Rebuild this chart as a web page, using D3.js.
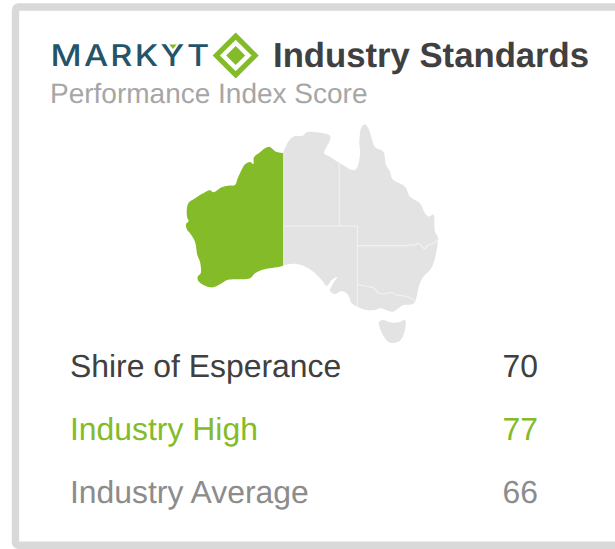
<!DOCTYPE html>
<html><head><meta charset="utf-8">
<script src="https://cdnjs.cloudflare.com/ajax/libs/d3/7.8.5/d3.min.js"></script>
<style>html,body{margin:0;padding:0;background:#fff;overflow:hidden}svg{display:block}text{font-family:"Liberation Sans",Arial,sans-serif;text-rendering:geometricPrecision}</style>
</head><body><div id="c"></div>
<script>
const titleText = "Industry Standards";
const subtitleText = "Performance Index Score";
const brandText = "MARKYT";
const rowLabels = ["Shire of Esperance", "Industry High", "Industry Average"];
const rowValues = [70, 77, 66];
const rowColors = ["#404040", "#84bb29", "#8c8c8c"];

const highlightedOutline = [[129,-15.57],[127.87,-15.39],[127.18,-14.9],[126.79,-14.67],[126.1,-14.9],[125.29,-15.47],[124.32,-16.19],[124.21,-17.14],[123.68,-16.86],[122.87,-17.19],[122.18,-18.24],[121.69,-19.19],[121.26,-20.14],[120.18,-20.24],[119.11,-20.47],[117.76,-21.19],[117.23,-20.9],[116.15,-21.33],[114.81,-22.04],[113.73,-22.76],[113.47,-23.96],[113.56,-24.81],[113.79,-25.29],[113.35,-25.76],[113.56,-26.57],[114,-27.04],[114.81,-28.24],[115.18,-30.14],[115.61,-31.1],[115.73,-32.76],[115.24,-33.24],[115.34,-33.86],[116.42,-34.53],[117.76,-34.76],[118.84,-34.33],[120.02,-33.71],[121.26,-33.61],[123.68,-33.47],[124.48,-32.76],[125.56,-32.29],[126.9,-32.04],[127.98,-31.9],[129,-31.67]];
const easternOutline = [[129,-15.57],[129.32,-14.9],[129.85,-13.96],[130.66,-13.24],[132.18,-13.1],[132.82,-12.61],[134.44,-12.61],[136.58,-13.1],[136.58,-13.71],[135.66,-15.61],[136.58,-16.1],[138.08,-16.96],[140.61,-18],[141.42,-15.86],[141.31,-13.96],[141.69,-11.81],[142.23,-11.47],[142.76,-12.04],[143.31,-13.47],[143.84,-14.76],[145.18,-15.39],[145.61,-17.29],[146.26,-18.24],[146.63,-19.29],[148.68,-20.39],[149.48,-21.81],[151.1,-22.76],[151.9,-24.19],[152.55,-24.67],[153.24,-24.33],[153.52,-26.81],[153.95,-27.53],[153.95,-28.24],[153.79,-29.43],[153.35,-31.1],[152.71,-32.29],[151.63,-33.24],[150.98,-34.43],[150.29,-36.81],[149.76,-37.19],[148.4,-37.29],[147.6,-37.76],[146.79,-38.24],[145.98,-38.14],[144.65,-37.76],[143.84,-38],[142.5,-38],[140.98,-37.53],[140.08,-37.04],[139.53,-35.86],[138.47,-35.29],[137.39,-35.71],[136.58,-35.29],[137.11,-34.19],[137.76,-33.24],[136.85,-33.71],[136.05,-34.57],[135.24,-33.71],[133.89,-32.53],[132.27,-31.67],[130.94,-31.39],[129.85,-31.47],[129,-31.67]];
const tasmaniaOutline = [[144.48,-39.67],[145.18,-39.43],[146.26,-39.76],[147.6,-39.76],[148.68,-39.43],[148.79,-40.14],[148.31,-41.81],[147.6,-42.53],[146.26,-42.67],[145.45,-42.04],[144.65,-40.61]];
const stateBorders = [
  [[138.08,-16.96],[138.08,-26]],
  [[129,-26],[141,-26]],
  [[141,-26],[141,-37.53]],
  [[141,-28.81],[149.21,-28.81],[149.76,-28.61],[150.18,-28.81],[150.66,-28.47],[151.1,-28.61],[151.79,-29.29],[152.44,-28.71],[153.35,-28.47],[153.89,-28]],
  [[141,-34.33],[142.23,-34.57],[143.56,-34.81],[144.37,-35.61],[145.18,-35.71],[146.53,-35.47],[147.34,-35.86],[148.4,-35.96],[149.48,-36.24],[150.4,-36.71]]
];

const W = 615, H = 549;
const svg = d3.select("#c").append("svg").attr("width", W).attr("height", H);

// frame
svg.append("rect").attr("x",15.5).attr("y",7).attr("width",W+20).attr("height",538.2)
  .attr("rx",3).attr("fill","#fff").attr("stroke","#d9d9d9").attr("stroke-width",7.4);

// map
const lon = d3.scaleLinear().domain([129,141]).range([283,357.4]);
const lat = d3.scaleLinear().domain([-26,-34]).range([226,282]);
const closed = d3.line().x(d=>lon(d[0])).y(d=>lat(d[1])).curve(d3.curveCatmullRomClosed.alpha(0.5));
const open = d3.line().x(d=>lon(d[0])).y(d=>lat(d[1]));
const g = svg.append("g");
const straightRight = pts => d3.line().x(d=>lon(d[0])).y(d=>lat(d[1])).curve(d3.curveCatmullRom.alpha(0.5))(pts) + "Z";
g.append("path").attr("d", straightRight(easternOutline)).attr("fill","#e3e3e3");
g.append("path").attr("d", closed(tasmaniaOutline)).attr("fill","#e3e3e3");
g.selectAll("path.b").data(stateBorders).join("path").attr("class","b")
  .attr("d", open).attr("fill","none").attr("stroke","#f1f1f1").attr("stroke-width",1.2);
g.append("path").attr("d", straightRight(highlightedOutline)).attr("fill","#84bb29");

// logo
const logo = svg.append("g");
logo.append("text").attr("x",50.5).attr("y",66.3).attr("textLength",161).attr("lengthAdjust","spacingAndGlyphs")
  .style("font-family","Inter").style("font-size","30px").style("font-weight",500).style("letter-spacing","2px").attr("fill","#24546a").text(brandText);
const cx = 235.7, cy = 55.5;
const diamond = r => d3.line()([[cx,cy-r],[cx+r,cy],[cx,cy+r],[cx-r,cy]]) + "Z";
logo.append("path").attr("d", diamond(19.4)).attr("fill","#fff").attr("stroke","#84bb29").attr("stroke-width",5.2);
logo.append("path").attr("d", diamond(9.5)).attr("fill","#84bb29");
logo.append("path").attr("d", d3.line()([[169.3,44.5],[176.7,44.5],[173,49]])+"Z").attr("fill","#84bb29");

// heading
svg.append("text").attr("x",273).attr("y",67).style("font-size","34.7px").style("font-weight",700).attr("fill","#404040").text(titleText);
svg.append("text").attr("x",50).attr("y",103).style("font-size","28px").attr("fill","#a6a6a6").text(subtitleText);

// rows
const rowY = d3.scalePoint().domain(rowLabels).range([377,503]);
const rows = svg.selectAll("g.row").data(rowLabels).join("g").attr("class","row");
rows.append("text").attr("x",70).attr("y",d=>rowY(d)).style("font-size","31.9px").attr("fill",(d,i)=>rowColors[i]).text(d=>d);
rows.append("text").attr("x",538).attr("y",d=>rowY(d)).attr("text-anchor","end").style("font-size","31.9px").attr("fill",(d,i)=>rowColors[i]).text((d,i)=>rowValues[i]);
</script></body></html>
